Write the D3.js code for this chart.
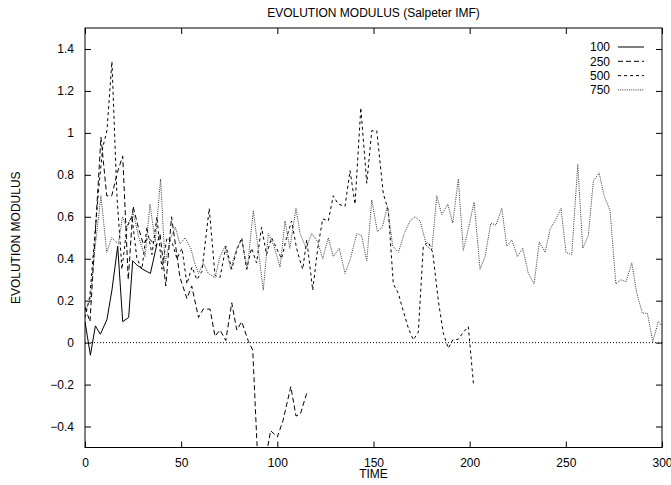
<!DOCTYPE html>
<html>

<head>
    <meta charset='utf-8'>
    <title>Evolution modulus</title>
    <script type='text/javascript' src='https://cdn.jsdelivr.net/npm/d3@7'></script>
    <style>
        html, body { margin: 0; padding: 0; background: #fff; overflow: hidden; }
        svg { display: block; }
        text { font-family: 'Liberation Sans', Arial, sans-serif; fill: #000; }
    </style>
</head>

<body>
    <svg width='671' height='485'></svg>
    <script type='text/javascript'>

        // series names (legend) and data
        const seriesNames = ['100', '250', '500', '750']
        const xTicks = [0, 50, 100, 150, 200, 250, 300]
        const yTicks = [-0.4, -0.2, 0, 0.2, 0.4, 0.6, 0.8, 1, 1.2, 1.4]

        const t100 = [0, 2.8, 5.4, 8, 11.4, 14, 17, 19.6, 22.7, 24.8, 27, 30, 34, 37.4]
        const v100 = [0.1, -0.06, 0.08, 0.04, 0.11, 0.25, 0.46, 0.1, 0.12, 0.39, 0.37, 0.35, 0.33, 0.47]

        const t250 = [0, 2.6, 5.2, 8.3, 11.3, 13.9, 16.8, 19.6, 22.5, 25, 27.7, 30.3, 33, 37, 39, 42, 45, 49.4, 53, 55.5, 59, 61.5, 65, 67.6, 70.2, 73.2, 76.3, 78.9, 81.5, 85, 87.2, 90, 93, 96.5, 100, 103, 107, 109.7, 112, 115.3]
        const v250 = [0.17, 0.1, 0.5, 0.98, 0.7, 0.7, 0.81, 0.89, 0.3, 0.65, 0.55, 0.47, 0.5, 0.46, 0.52, 0.27, 0.6, 0.31, 0.21, 0.27, 0.12, 0.16, 0.16, 0.03, 0.06, 0.01, 0.19, 0.06, 0.1, 0.005, -0.035, -0.6, -0.6, -0.42, -0.45, -0.37, -0.21, -0.35, -0.34, -0.24]

        const t500 = [0, 2.5, 5, 7.1, 9.2, 11.4, 14, 16.6, 19.2, 21.8, 24.4, 27, 29.6, 32.2, 34.8, 37.4, 40, 42.6, 45.2, 47.8, 50.4, 53, 55.6, 58.2, 60.8, 64.6, 67.6, 70.2, 73.3, 76.3, 78.9, 81.5, 84, 86.6, 89.2, 91.8, 94.4, 97, 99.6, 102.2, 104.8, 107.4, 110, 111.8, 113.2, 115.3, 118.4, 121, 123.6, 126.5, 129.1, 131.7, 135.2, 137.8, 140.4, 143.4, 146.5, 149.1, 151.7, 155.1, 157.7, 160.3, 162.9, 165.5, 168.1, 170.7, 173.3, 175.9, 178.5, 180.8, 183.7, 186.3, 188.9, 191.2, 194.1, 196.7, 199.3, 202]
        const v500 = [0.12, 0.22, 0.5, 0.73, 0.93, 1.01, 1.34, 0.7, 0.35, 0.55, 0.6, 0.4, 0.35, 0.55, 0.42, 0.6, 0.35, 0.5, 0.48, 0.4, 0.45, 0.28, 0.36, 0.3, 0.34, 0.64, 0.32, 0.31, 0.46, 0.35, 0.44, 0.5, 0.35, 0.45, 0.38, 0.55, 0.42, 0.5, 0.45, 0.4, 0.5, 0.58, 0.45, 0.39, 0.35, 0.49, 0.25, 0.45, 0.59, 0.58, 0.7, 0.66, 0.65, 0.82, 0.66, 1.12, 0.76, 1.01, 1.01, 0.71, 0.63, 0.28, 0.235, 0.15, 0.07, 0.013, 0.05, 0.46, 0.48, 0.43, 0.2, 0.045, -0.027, 0.013, 0.016, 0.05, 0.076, -0.2]

        const t750 = [0, 2.6, 5.2, 8.3, 11.3, 13.9, 17.3, 19.5, 21.6, 25, 28, 31.2, 33.8, 36.5, 39.3, 41.6, 44.5, 47, 49.4, 52, 55, 57, 59, 61.5, 64.1, 67.6, 70.2, 72.8, 75.8, 78.9, 81.5, 84.4, 87.5, 90, 92.7, 95.3, 98.3, 101.4, 104, 106.5, 109.7, 111.8, 115, 117.9, 121, 123.6, 126.5, 129.1, 132.2, 135.2, 138, 141.3, 143.8, 146.5, 149.1, 152, 154.6, 157.2, 160, 162.9, 166, 169, 171.6, 174.2, 177.7, 180.3, 182.9, 185.5, 188.6, 191.2, 194.1, 196.7, 199.5, 202.3, 205.4, 208, 211, 213.7, 216.7, 219.3, 221.9, 224.8, 227.6, 230.5, 233.5, 236.2, 239.2, 241.8, 244.9, 247.5, 250.1, 253.1, 256.2, 258.8, 261.7, 264.3, 267.3, 269.9, 273, 276, 278.6, 281.3, 284.3, 286.9, 289.8, 292.4, 295.2, 298.1, 300]
        const v750 = [0.15, 0.2, 0.45, 0.7, 0.43, 0.5, 0.47, 0.6, 0.55, 0.62, 0.5, 0.41, 0.66, 0.48, 0.78, 0.38, 0.5, 0.55, 0.47, 0.5, 0.45, 0.38, 0.33, 0.38, 0.33, 0.31, 0.41, 0.46, 0.35, 0.45, 0.49, 0.35, 0.63, 0.45, 0.25, 0.52, 0.46, 0.36, 0.58, 0.45, 0.64, 0.52, 0.45, 0.52, 0.48, 0.4, 0.5, 0.41, 0.45, 0.33, 0.4, 0.52, 0.51, 0.39, 0.68, 0.53, 0.55, 0.65, 0.46, 0.43, 0.52, 0.58, 0.6, 0.58, 0.46, 0.44, 0.7, 0.61, 0.66, 0.57, 0.78, 0.44, 0.55, 0.67, 0.35, 0.41, 0.57, 0.56, 0.64, 0.46, 0.49, 0.41, 0.45, 0.33, 0.28, 0.48, 0.43, 0.54, 0.59, 0.64, 0.43, 0.42, 0.85, 0.45, 0.51, 0.77, 0.81, 0.7, 0.63, 0.28, 0.3, 0.29, 0.38, 0.235, 0.14, 0.14, 0.005, 0.1, 0.08]

        const seriesT = [t100, t250, t500, t750]
        const seriesV = [v100, v250, v500, v750]
        // gnuplot-like line types
        const dashes = [null, '5,3', '3,3', '1,1.2']
        const strokes = ['#000', '#000', '#000', '#333']

        const svg = d3.select('svg')
        const margin = { top: 28, left: 85, bottom: 37.5, right: 9 }
        const width = 671, height = 485
        const innerWidth = width - margin.left - margin.right
        const innerHeight = height - margin.top - margin.bottom

        const x = d3.scaleLinear().domain([0, 300]).range([0, innerWidth])
        const y = d3.scaleLinear().domain([-0.5, 1.5]).range([innerHeight, 0])

        const g = svg.append('g').attr('transform', `translate(${margin.left}, ${margin.top})`)

        g.append('clipPath').attr('id', 'clip')
            .append('rect').attr('width', innerWidth).attr('height', innerHeight)

        // ticks on all four sides, pointing inward
        const tickLen = 6
        g.append('g').attr('transform', `translate(0, ${innerHeight})`)
            .call(d3.axisBottom(x).tickValues(xTicks).tickSize(-tickLen).tickPadding(11).tickFormat(d3.format('d')))
        g.append('g')
            .call(d3.axisTop(x).tickValues(xTicks).tickSize(-tickLen).tickFormat(''))
        g.append('g')
            .call(d3.axisLeft(y).tickValues(yTicks).tickSize(-tickLen).tickPadding(11).tickFormat(d => d3.format('')(+d.toFixed(1))))
        g.append('g').attr('transform', `translate(${innerWidth}, 0)`)
            .call(d3.axisRight(y).tickValues(yTicks).tickSize(-tickLen).tickFormat(''))
        g.selectAll('.domain').remove()
        g.selectAll('.tick line').attr('stroke', '#000').attr('stroke-width', 1)
        g.selectAll('.tick text').style('font-size', '12px').attr('fill', '#000')

        // zero axis
        g.append('line')
            .attr('x1', 0).attr('x2', innerWidth)
            .attr('y1', y(0)).attr('y2', y(0))
            .attr('stroke', '#000').attr('stroke-width', 1)
            .attr('stroke-dasharray', '1,2')

        const line = d3.line().x(d => x(d[0])).y(d => y(d[1]))

        const plot = g.append('g').attr('clip-path', 'url(#clip)')
        seriesNames.forEach((name, i) => {
            const pts = seriesT[i].map((t, k) => [t, seriesV[i][k]])
            plot.append('path')
                .datum(pts)
                .attr('d', line)
                .attr('fill', 'none')
                .attr('stroke', strokes[i])
                .attr('stroke-width', 1)
                .attr('stroke-dasharray', dashes[i])
        })

        // frame
        g.append('rect')
            .attr('width', innerWidth).attr('height', innerHeight)
            .attr('fill', 'none').attr('stroke', '#000').attr('stroke-width', 1)

        // legend
        const legend = g.append('g').attr('transform', `translate(${610 - margin.left}, ${47 - margin.top})`)
        seriesNames.forEach((name, i) => {
            const row = legend.append('g').attr('transform', `translate(0, ${i * 14.3})`)
            row.append('text').attr('text-anchor', 'end').attr('dy', '0.35em')
                .style('font-size', '12px').text(name)
            row.append('line').attr('x1', 8).attr('x2', 34)
                .attr('stroke', strokes[i]).attr('stroke-width', 1)
                .attr('stroke-dasharray', dashes[i])
        })

        // titles
        svg.append('text').attr('x', margin.left + innerWidth / 2).attr('y', 17)
            .attr('text-anchor', 'middle').style('font-size', '12px')
            .text('EVOLUTION MODULUS (Salpeter IMF)')
        svg.append('text').attr('x', margin.left + innerWidth / 2).attr('y', 478)
            .attr('text-anchor', 'middle').style('font-size', '12px')
            .text('TIME')
        svg.append('text').attr('transform', `translate(20, ${margin.top + innerHeight / 2}) rotate(-90)`)
            .attr('text-anchor', 'middle').style('font-size', '12px')
            .text('EVOLUTION MODULUS')
    </script>
</body>

</html>
